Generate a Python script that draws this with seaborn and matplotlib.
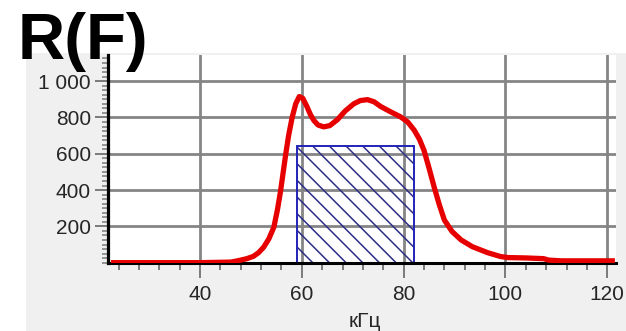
import matplotlib
matplotlib.use("Agg")
import matplotlib.pyplot as plt
from matplotlib.patches import Rectangle
from matplotlib.ticker import MultipleLocator, FixedLocator, FixedFormatter
import seaborn as sns

# spectrum R(F)
freq = [22.5, 30, 40, 46, 47, 48, 49.2, 50.5, 51.5, 52.5, 53.5, 54.5, 55.2, 55.8,
        56.3, 56.8, 57.4, 58.1, 58.8, 59.5, 60.2, 61, 61.7, 62.4, 63.2, 64.3,
        65.5, 67, 68.5, 70.2, 71.5, 72.9, 74.2, 75.5, 77.5, 79.4, 80.8, 82.1,
        83.1, 84, 85, 86, 87, 88, 89.5, 91.3, 93.5, 96.5, 99, 100.5, 104,
        107.5, 108.5, 111, 121.5]
resp = [0, 0, 0, 3, 8, 14, 22, 35, 55, 85, 130, 195, 290, 390,
        490, 590, 700, 800, 875, 915, 905, 860, 815, 782, 758, 748,
        755, 788, 835, 875, 893, 898, 886, 860, 830, 803, 775, 729,
        680, 619, 520, 416, 320, 235, 172, 125, 88, 55, 34, 28, 26,
        22, 14, 10, 10]

# hatched band
band_start = 59
band_end = 82
band_level = 640

x_ticks = [40, 60, 80, 100, 120]
y_ticks = [200, 400, 600, 800, 1000]
y_tick_labels = ["200", "400", "600", "800", "1 000"]

sns.set_style("white")
plt.rcParams["font.family"] = ["Liberation Sans", "DejaVu Sans"]
plt.rcParams["hatch.linewidth"] = 1.1

fig = plt.figure(figsize=(6.26, 3.31), dpi=100)
fig.patch.set_facecolor("white")
fig.add_artist(Rectangle((26 / 626, 0), 1, (331 - 53) / 331,
                         transform=fig.transFigure, facecolor="#f0f0f0",
                         edgecolor="none", zorder=-1))

ax = fig.add_axes([108.4 / 626, 1 - 263.2 / 331, 508 / 626, 208.4 / 331])
ax.set_facecolor("white")

ax.bar([band_start], [band_level], width=band_end - band_start, align="edge",
       fill=False, hatch="\\\\", edgecolor="#2e2e86", linewidth=0, zorder=2)
ax.bar([band_start], [band_level], width=band_end - band_start, align="edge",
       fill=False, edgecolor="#2323b8", linewidth=1.4, zorder=2.1)

sns.lineplot(x=freq, y=resp, ax=ax, color="#e60000", linewidth=3.8,
             solid_capstyle="butt", solid_joinstyle="round", zorder=3)

ax.set_xlim(22, 121.8)
ax.set_ylim(-3, 1145)

ax.xaxis.set_major_locator(FixedLocator(x_ticks))
ax.xaxis.set_minor_locator(MultipleLocator(4))
ax.yaxis.set_major_locator(FixedLocator(y_ticks))
ax.yaxis.set_major_formatter(FixedFormatter(y_tick_labels))
ax.yaxis.set_minor_locator(MultipleLocator(25))

ax.grid(True, which="major", color="#858585", linewidth=2, zorder=1)
ax.set_axisbelow(True)

for s in ["top", "right"]:
    ax.spines[s].set_visible(False)
ax.spines["left"].set_color("black")
ax.spines["left"].set_linewidth(2.3)
ax.spines["bottom"].set_color("black")
ax.spines["bottom"].set_linewidth(2.2)

ax.tick_params(axis="x", which="both", bottom=True)
ax.tick_params(axis="y", which="both", left=True)
ax.tick_params(axis="x", which="major", direction="out", length=10.5, width=1.4,
               color="#7a7a7a", labelsize=15, labelcolor="#262626", pad=5)
ax.tick_params(axis="x", which="minor", direction="out", length=5, width=1.4,
               color="#7a7a7a")
ax.tick_params(axis="y", which="major", direction="out", length=9.5, width=1.4,
               color="#7a7a7a", labelsize=15, labelcolor="#262626", pad=3)
ax.tick_params(axis="y", which="minor", direction="out", length=4.5, width=1.1,
               color="#7a7a7a")

ax.set_xlabel("кГц", fontsize=15, color="#262626")
ax.xaxis.set_label_coords(0.505, -0.235)
ax.set_ylabel("")

fig.text(0.028, 0.822, "R(F)", fontsize=47, fontweight="bold", color="black",
         va="baseline", ha="left", zorder=10)

fig.savefig("out.png", dpi=100, facecolor=fig.get_facecolor())
